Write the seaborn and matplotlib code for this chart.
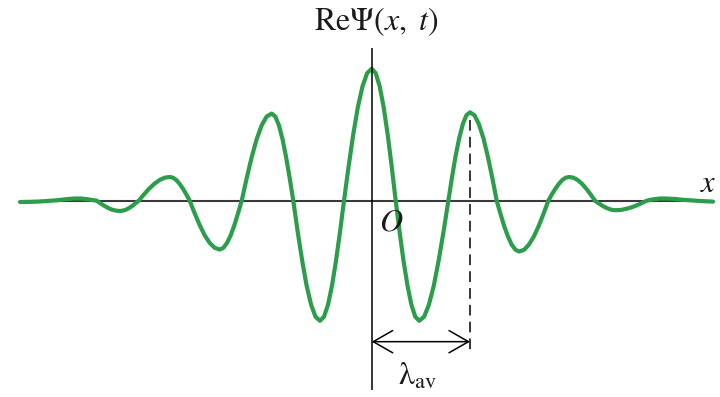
import matplotlib
matplotlib.use("Agg")
import matplotlib.pyplot as plt
import seaborn as sns
import pandas as pd

# Wave packet Re Psi(x, t): position in units of the mean wavelength,
# amplitude normalised to the central peak.
x_vals = [
    # left tail
    -3.517, -3.420, -3.317, -3.230, -3.137, -3.050, -2.967, -2.900, -2.850, -2.800,
    # lobes, crossing -> extremum -> next crossing
    -2.750, -2.712, -2.673, -2.635, -2.597, -2.558, -2.520, -2.488, -2.457, -2.425, -2.393, -2.362,
    -2.330, -2.278, -2.227, -2.175, -2.123, -2.072, -2.020, -1.987, -1.953, -1.920, -1.887, -1.853,
    -1.820, -1.770, -1.720, -1.670, -1.620, -1.570, -1.520, -1.483, -1.447, -1.410, -1.373, -1.337,
    -1.300, -1.250, -1.200, -1.150, -1.100, -1.050, -1.000, -0.964, -0.928, -0.892, -0.856, -0.820,
    -0.784, -0.740, -0.695, -0.651, -0.606, -0.562, -0.517, -0.477, -0.437, -0.397, -0.357, -0.317,
    -0.277, -0.231, -0.185, -0.139, -0.092, -0.046, 0.000, 0.040, 0.080, 0.120, 0.160, 0.200,
    0.240, 0.279, 0.318, 0.358, 0.397, 0.436, 0.475, 0.524, 0.572, 0.621, 0.669, 0.718,
    0.766, 0.802, 0.838, 0.875, 0.911, 0.947, 0.983, 1.028, 1.072, 1.117, 1.161, 1.206,
    1.250, 1.288, 1.325, 1.363, 1.400, 1.438, 1.475, 1.524, 1.572, 1.621, 1.669, 1.718,
    1.766, 1.801, 1.836, 1.871, 1.905, 1.940, 1.975, 2.018, 2.061, 2.104, 2.147, 2.190,
    2.233, 2.268, 2.302, 2.337, 2.371, 2.406, 2.440, 2.492, 2.543, 2.595, 2.647, 2.698,
    # right tail
    2.750, 2.810, 2.883, 2.960, 3.033, 3.110, 3.183, 3.300, 3.413,
]
re_psi = [
    -0.010, -0.009, -0.006, -0.001, 0.004, 0.012, 0.017, 0.016, 0.012, 0.006,
    0.000, -0.020, -0.039, -0.055, -0.068, -0.075, -0.078, -0.075, -0.068, -0.055, -0.039, -0.020,
    0.000, 0.047, 0.090, 0.127, 0.156, 0.174, 0.180, 0.174, 0.156, 0.127, 0.090, 0.047,
    0.000, -0.096, -0.185, -0.262, -0.320, -0.357, -0.370, -0.357, -0.320, -0.262, -0.185, -0.096,
    0.000, 0.171, 0.330, 0.467, 0.572, 0.638, 0.660, 0.638, 0.572, 0.467, 0.330, 0.171,
    0.000, -0.236, -0.455, -0.643, -0.788, -0.879, -0.910, -0.879, -0.788, -0.643, -0.455, -0.236,
    0.000, 0.259, 0.500, 0.707, 0.866, 0.966, 1.000, 0.966, 0.866, 0.707, 0.500, 0.259,
    0.000, -0.236, -0.455, -0.643, -0.788, -0.879, -0.910, -0.879, -0.788, -0.643, -0.455, -0.236,
    0.000, 0.173, 0.335, 0.474, 0.580, 0.647, 0.670, 0.647, 0.580, 0.474, 0.335, 0.173,
    0.000, -0.100, -0.193, -0.272, -0.333, -0.372, -0.385, -0.372, -0.333, -0.272, -0.193, -0.100,
    0.000, 0.047, 0.090, 0.127, 0.156, 0.174, 0.180, 0.174, 0.156, 0.127, 0.090, 0.047,
    0.000, -0.019, -0.036, -0.051, -0.062, -0.070, -0.072, -0.070, -0.062, -0.051, -0.036, -0.019,
    0.000, 0.010, 0.017, 0.016, 0.013, 0.007, 0.003, -0.003, -0.007,
]

# Peak used to mark the average wavelength
lambda_peak_x = 0.983
lambda_peak_y = 0.670

title_text = r"$\mathrm{Re}\Psi(x,\ t)$"
x_label = r"$x$"
origin_label = r"$O$"
lambda_label = r"$\mathrm{\lambda}_{\mathrm{av}}$"

sns.set_theme(style="white")
plt.rcParams["mathtext.fontset"] = "stix"
plt.rcParams["font.family"] = ["Liberation Serif", "DejaVu Serif"]

fig = plt.figure(figsize=(7.2, 3.97), dpi=100)
ax = fig.add_axes([0, 0, 1, 1])
ax.set_xlim(-3.717, 3.483)
ax.set_ylim(-1.4871, 1.5205)
ax.axis("off")

df = pd.DataFrame({"x": x_vals, "re_psi": re_psi})

# coordinate axes
ax.plot([-3.50, 3.40], [0, 0], color="#3a3a3a", lw=1.5, zorder=1,
        solid_capstyle="butt")
ax.plot([0, 0], [-1.434, 1.157], color="black", lw=1.1, zorder=4,
        solid_capstyle="butt")

# wave packet
sns.lineplot(data=df, x="x", y="re_psi", ax=ax, color="#2c9e4b",
             linewidth=3.0, sort=False, estimator=None, zorder=3,
             solid_joinstyle="round", solid_capstyle="round")

# dashed marker at the first peak to the right of the origin
ax.plot([lambda_peak_x, lambda_peak_x], [lambda_peak_y - 0.06, -1.155],
        color="black", lw=1.1, linestyle=(0, (7, 4)), zorder=2)

# double arrow spanning one wavelength
ax.annotate("", xy=(lambda_peak_x, -1.068), xytext=(0, -1.068),
            arrowprops=dict(arrowstyle="<->,head_length=1.4,head_width=0.8",
                            color="black", lw=1.1, shrinkA=0, shrinkB=0,
                            mutation_scale=10), zorder=5)

ax.text(0.043, 1.288, title_text, ha="center", va="baseline",
        fontsize=23, color="#1a1a1a")
ax.text(3.366, 0.119, x_label, ha="center", va="center",
        fontsize=22, color="#1a1a1a")
ax.text(0.193, -0.169, origin_label, ha="center", va="center",
        fontsize=23, color="#1a1a1a")
ax.text(0.453, -1.396, lambda_label, ha="center", va="baseline",
        fontsize=23, color="#1a1a1a")

fig.savefig("out.png", dpi=100, facecolor="white")
